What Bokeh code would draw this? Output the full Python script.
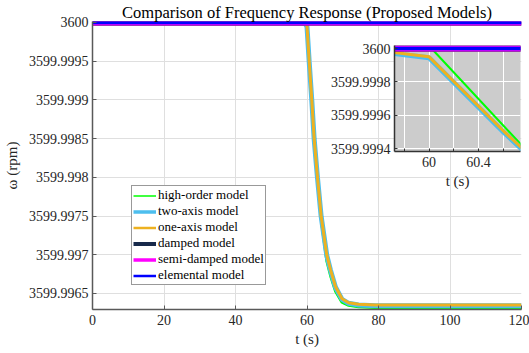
from bokeh.plotting import figure
from bokeh.models import Range1d, FixedTicker, Legend, LegendItem, GridBox
from bokeh.embed import file_html
from bokeh.resources import INLINE

# ---------------- data ----------------
t_main = [0, 59.45, 60.0, 60.61, 61.34, 62.0, 62.93, 63.96, 65.52, 66.55,
          67.94, 69.8, 71.64, 74.4, 79.1, 120]
w_one_axis = [3600.0, 3600.0, 3599.99995, 3599.9995, 3599.999, 3599.9985,
              3599.998, 3599.9975, 3599.997, 3599.99681, 3599.99659,
              3599.99643, 3599.99638, 3599.99636, 3599.99635, 3599.99635]
w_two_axis = [3600.0, 3599.999995, 3599.999944, 3599.999494, 3599.998994,
              3599.998494, 3599.997994, 3599.997494, 3599.996994, 3599.996804,
              3599.996582, 3599.996422, 3599.996372, 3599.99635, 3599.99634,
              3599.99634]
t_high = [0, 60.02, 60.75, 61.4, 62.05, 62.95, 63.95, 65.4, 66.5, 67.9,
          69.7, 71.6, 74.4, 79.0, 120]
w_high = [3600.0, 3600.0, 3599.99942, 3599.99892, 3599.99842, 3599.99792,
          3599.99742, 3599.99692, 3599.99672, 3599.99652, 3599.99638,
          3599.99634, 3599.99632, 3599.99631, 3599.99631]
t_flat = [0, 120]
w_damped = [3600.0, 3600.0]
w_semi_damped = [3600.0, 3600.0]
w_elemental = [3600.0, 3600.0]

labels = ["high-order model", "two-axis model", "one-axis model",
          "damped model", "semi-damped model", "elemental model"]

x_ticks = [0, 20, 40, 60, 80, 100, 120]
y_tick_labels = ["3599.9965", "3599.997", "3599.9975", "3599.998",
                 "3599.9985", "3599.999", "3599.9995", "3600"]
inset_x_ticks = [59.8, 60.0, 60.2, 60.4, 60.6]
inset_x_labels = ["", "60", "", "60.4", ""]
inset_y_tick_labels = ["3599.9994", "3599.9996", "3599.9998", "3600"]

title_text = "Comparison of Frequency Response (Proposed Models)"

# ---------------- styles ----------------
FONT = "Liberation Serif"
colors = ["#00ff00", "#4dbeee", "#edb120", "#17294a", "#ff00ff", "#0000ff"]
plot_widths = [2, 5, 3, 6.5, 6, 3.5]
legend_widths = [1.5, 3.5, 2.5, 4, 3.5, 2.5]
series = [(t_high, w_high), (t_main, w_two_axis), (t_main, w_one_axis),
          (t_flat, w_damped), (t_flat, w_semi_damped), (t_flat, w_elemental)]

y_lo, y_hi = 3599.996292, 3600.0000129
iy_lo, iy_hi = 3599.999383, 3600.000018
ix_lo, ix_hi = 59.72, 60.74


def style_axis(ax, line_color, tick_in):
    ax.major_tick_in = tick_in
    ax.major_tick_out = 0
    ax.minor_tick_line_color = None
    ax.axis_line_color = line_color
    ax.axis_line_width = 1.5
    ax.major_tick_line_color = line_color
    ax.major_label_text_font = FONT
    ax.major_label_text_font_size = "14px"
    ax.major_label_text_color = "#262626"
    ax.axis_label_text_font = FONT
    ax.axis_label_text_font_size = "15px"
    ax.axis_label_text_font_style = "normal"
    ax.axis_label_text_color = "#262626"


# ---------------- main figure ----------------
p = figure(width=529, height=353,
           min_border_left=91, min_border_right=8,
           min_border_top=0, min_border_bottom=44,
           x_range=Range1d(0, 120), y_range=Range1d(y_lo, y_hi),
           output_backend="svg", toolbar_location=None, title=title_text)
p.title.align = "center"
p.title.text_font = FONT
p.title.text_font_size = "16.5px"
p.title.text_font_style = "normal"
p.title.text_color = "#000000"
p.title.standoff = 0
p.outline_line_color = None
p.background_fill_color = "white"
p.border_fill_color = "white"

p.xaxis.ticker = FixedTicker(ticks=x_ticks)
y_vals = [float(s) for s in y_tick_labels]
p.yaxis.ticker = FixedTicker(ticks=y_vals)
p.yaxis.major_label_overrides = {v: s for v, s in zip(y_vals, y_tick_labels)}
style_axis(p.xaxis[0], "#595959", 4)
style_axis(p.yaxis[0], "#595959", 4)
p.xaxis.major_label_standoff = 5
p.yaxis.major_label_standoff = 4
p.xaxis.axis_label = "t (s)"
p.yaxis.axis_label = "ω (rpm)"
p.xaxis.axis_label_standoff = 3
p.yaxis.axis_label_standoff = 6
p.grid.grid_line_color = "#dfdfdf"
p.grid.grid_line_width = 1

for (tx, wy), c, lw in zip(series, colors, plot_widths):
    p.line(tx, wy, line_color=c, line_width=lw)

items = []
for lab, c, lw in zip(labels, colors, legend_widths):
    r = p.line([float("nan")], [float("nan")], line_color=c, line_width=lw)
    items.append(LegendItem(label=lab, renderers=[r]))
legend = Legend(items=items, location=(39, 24))
legend.label_text_font = FONT
legend.label_text_font_size = "13px"
legend.label_text_line_height = 1.0
legend.label_text_color = "#000000"
legend.label_height = 15
legend.glyph_height = 15
legend.glyph_width = 23
legend.label_standoff = 2
legend.padding = 1
legend.spacing = 0
legend.margin = 0
legend.border_line_color = "#333333"
legend.border_line_width = 1
legend.background_fill_color = "white"
legend.background_fill_alpha = 1
p.add_layout(legend)

# ---------------- inset figure ----------------
# frames of children sharing a grid cell are aligned, so the inset gets the
# same borders as the main plot; its margin places the frame where wanted.
ins = figure(frame_width=126, frame_height=106,
             min_border_left=91, min_border_right=8,
             min_border_top=21, min_border_bottom=44,
             x_range=Range1d(ix_lo, ix_hi), y_range=Range1d(iy_lo, iy_hi),
             output_backend="svg", toolbar_location=None, title=None,
             background_fill_color="#cccccc", border_fill_alpha=0)
ins.outline_line_color = None
ins.xaxis.ticker = FixedTicker(ticks=inset_x_ticks)
ins.xaxis.major_label_overrides = {v: s for v, s in zip(inset_x_ticks, inset_x_labels)}
iy_vals = [float(s) for s in inset_y_tick_labels]
ins.yaxis.ticker = FixedTicker(ticks=iy_vals)
ins.yaxis.major_label_overrides = {v: s for v, s in zip(iy_vals, inset_y_tick_labels)}
style_axis(ins.xaxis[0], "#333333", 3)
style_axis(ins.yaxis[0], "#333333", 3)
ins.xaxis.major_label_standoff = 5
ins.yaxis.major_label_standoff = 4
ins.xaxis.axis_label = "t (s)"
ins.xaxis.axis_label_standoff = 3
ins.grid.grid_line_color = "white"
ins.grid.grid_line_width = 1

for (tx, wy), c, lw in zip(series, colors, plot_widths):
    ins.line(tx, wy, line_color=c, line_width=lw)

ins.margin = (24, 0, 0, 302)

layout = GridBox(children=[(p, 0, 0), (ins, 0, 0)])

open("out.html", "w").write(file_html(layout, INLINE))
